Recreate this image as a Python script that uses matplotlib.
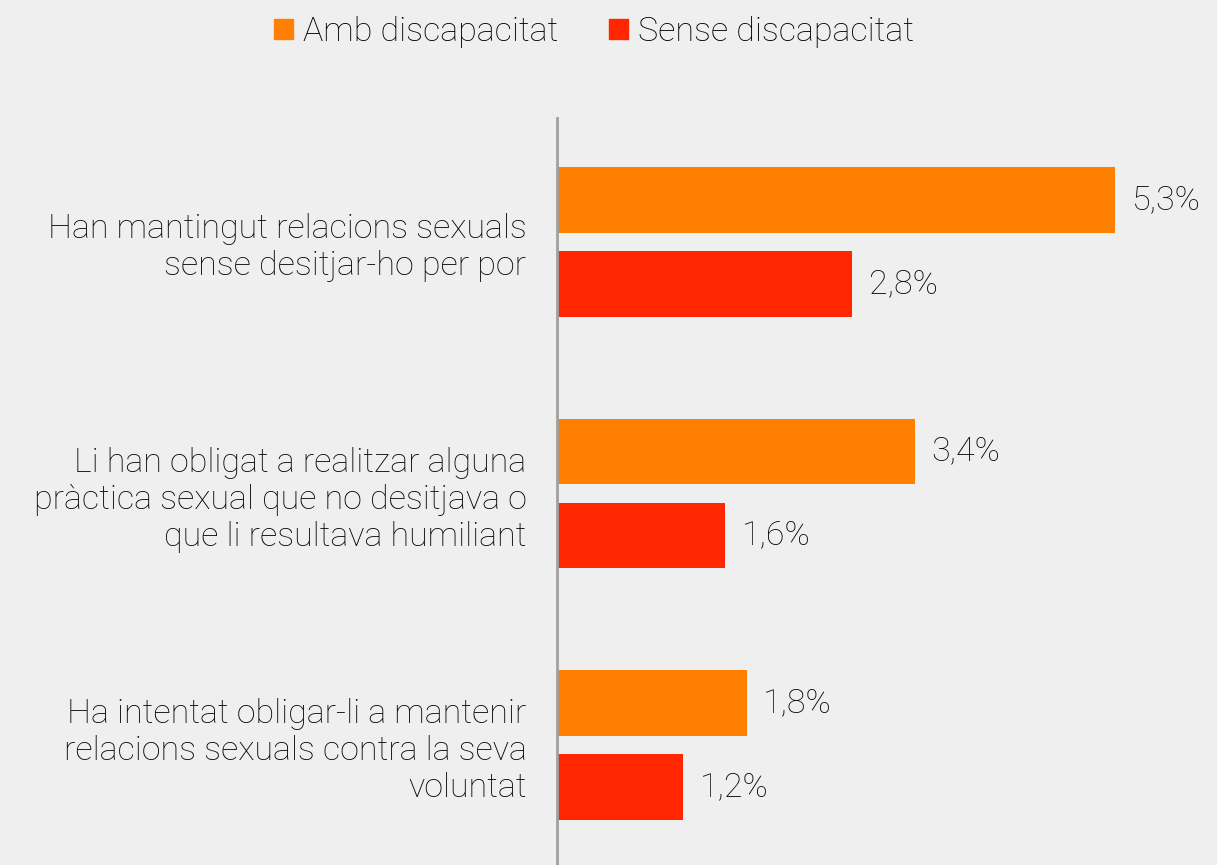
import numpy as np
import matplotlib.pyplot as plt
from matplotlib.patches import Patch

# dades
categories = [
    "Han mantingut relacions sexuals\nsense desitjar-ho per por",
    "Li han obligat a realitzar alguna\npràctica sexual que no desitjava o\nque li resultava humiliant",
    "Ha intentat obligar-li a mantenir\nrelacions sexuals contra la seva\nvoluntat",
]
series_names = ["Amb discapacitat", "Sense discapacitat"]
amb = [5.3, 3.4, 1.8]
sense = [2.8, 1.6, 1.2]
colors = ["#FF7F00", "#FF2600"]

plt.rcParams['font.family'] = ['Roboto', 'DejaVu Sans']
plt.rcParams['font.weight'] = 'light'

bg = "#efefef"
fig = plt.figure(figsize=(12.17, 8.65), dpi=100, facecolor=bg)
W, H = 1217, 865
ax = fig.add_axes([557 / W, 0, (W - 557) / W, (H - 118) / H])
ax.set_facecolor(bg)

y = np.arange(len(categories))
h = 0.262
off = 0.167
b1 = ax.barh(y - off, amb, height=h, color=colors[0])
b2 = ax.barh(y + off, sense, height=h, color=colors[1])

fs = 24.5
txt = "#0a0a0a"
for bars, vals in [(b1, amb), (b2, sense)]:
    for r, v in zip(bars, vals):
        ax.annotate(f"{v:.1f}%".replace(".", ","),
                    (r.get_width(), r.get_y() + r.get_height() / 2),
                    xytext=(12, 0), textcoords="offset points",
                    ha="left", va="center", fontsize=fs, color=txt)

ax.set_xlim(0, (W - 557) / 105.3)
ax.set_ylim(2.477, -0.493)
ax.set_yticks(y)
ax.set_yticklabels(categories, fontsize=fs, color=txt, linespacing=1.2)
ax.tick_params(axis="y", length=0, pad=22)
ax.set_xticks([])
for s in ["top", "right", "bottom"]:
    ax.spines[s].set_visible(False)
ax.spines["left"].set_color("#a0a0a0")
ax.spines["left"].set_linewidth(2)

handles = [Patch(color=c, label=n) for c, n in zip(colors, series_names)]
fig.legend(handles=handles, loc="center", bbox_to_anchor=(594 / W, 1 - 32 / H),
           ncol=2, frameon=False, fontsize=fs, handlelength=0.55, handleheight=0.55,
           handletextpad=0.3, columnspacing=1.5)

fig.savefig("out.png", dpi=100, facecolor=bg)
